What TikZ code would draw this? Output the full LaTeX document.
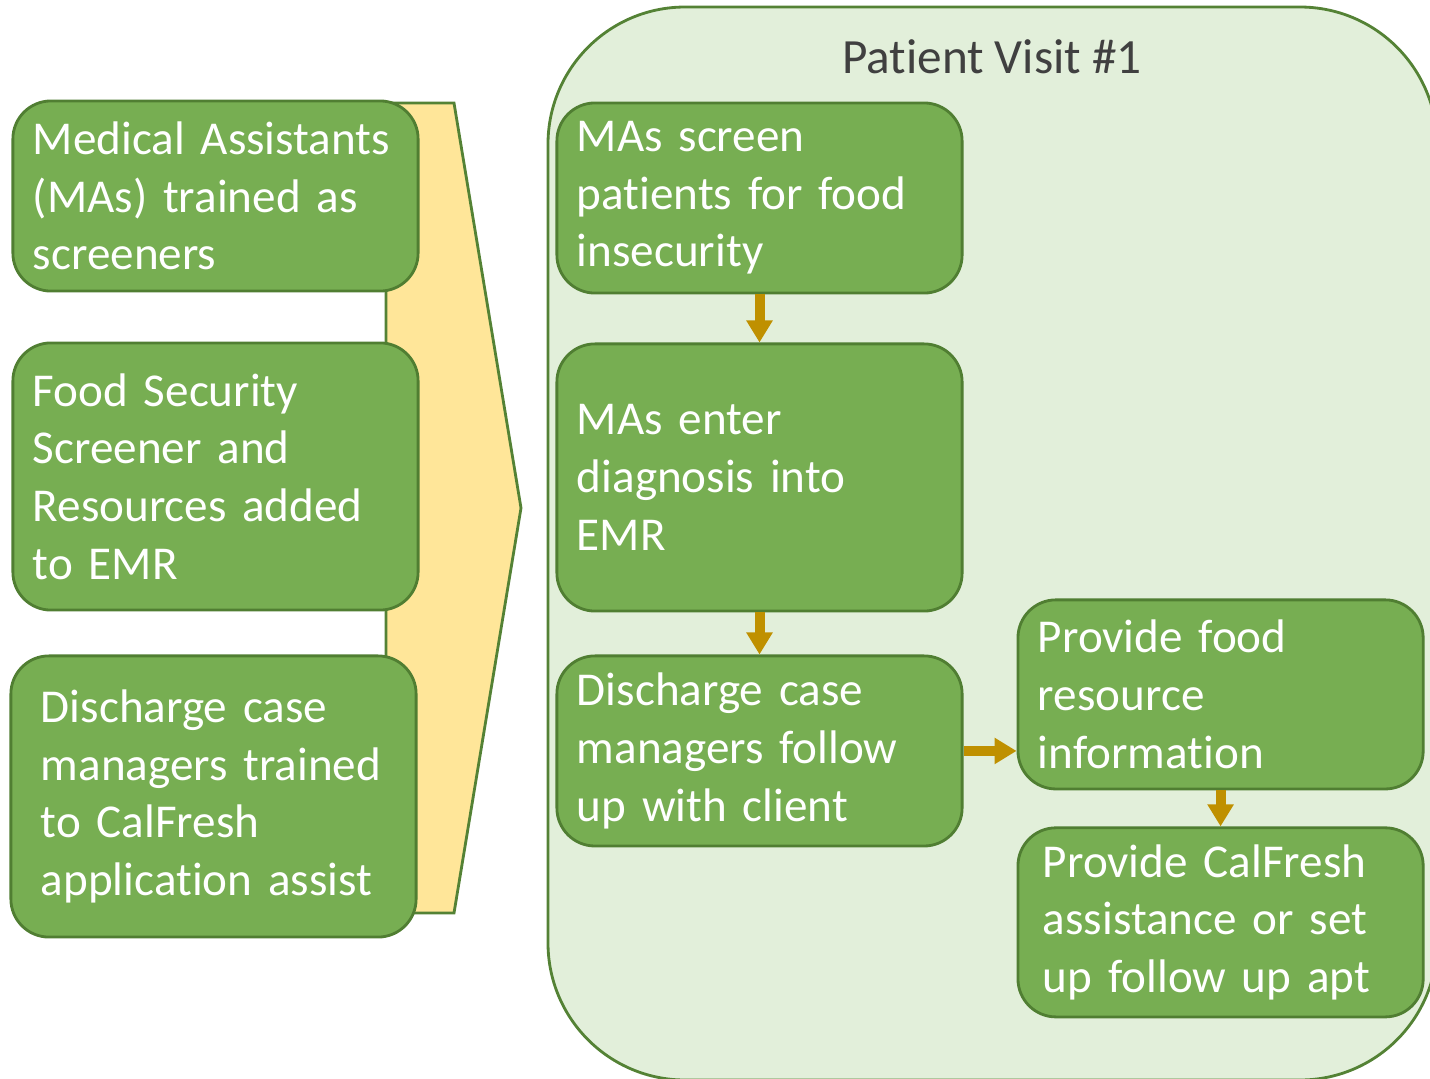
\documentclass[tikz,border=0pt]{standalone}
\usepackage{fontspec}
\setmainfont{Carlito}[Ligatures=NoCommon]
\usetikzlibrary{positioning, arrows.meta}

\definecolor{boxgreen}{HTML}{77AE52}
\definecolor{boxedge}{HTML}{507E32}
\definecolor{visitfill}{HTML}{E2EFDA}
\definecolor{visitedge}{HTML}{548235}
\definecolor{chevronfill}{HTML}{FFE699}
\definecolor{flowarrow}{HTML}{BF9000}
\definecolor{titlegray}{HTML}{404040}

\tikzset{
  greenbox/.style={
    rectangle,
    rounded corners=0.38cm,
    draw=boxedge,
    fill=boxgreen,
    line width=0.8pt,
    text=white,
    align=left,
    inner xsep=0.2cm,
    text width=3.65cm,
    font=\fontsize{13.4pt}{16.4pt}\selectfont
  },
  flow/.style={
    draw=flowarrow,
    line width=0.1cm,
    -{Triangle[width=0.25cm,length=0.22cm]}
  },
}

\begin{document}
\begin{tikzpicture}[x=0.01cm, y=-0.01cm]

    \clip (0,0) rectangle (1430,1078);

    % Background shapes
    \draw [fill=chevronfill, draw=visitedge, line width=0.8pt]
        (386,103) -- (454,103) -- (521,508) -- (454,913) -- (386,913) -- cycle;
    \draw [fill=visitfill, draw=visitedge, line width=0.8pt, rounded corners=1.37cm]
        (548,7) rectangle (1437,1080);

    \node (title) at (992,57) [text=titlegray, font=\fontsize{14pt}{17pt}\selectfont] {Patient Visit \#1};

    % Nodes
    \node (l1) at (215.5,196) [greenbox, minimum height=1.90cm] {Medical Assistants\\(MAs) trained as\\screeners};
    \node (l2) [below=0.49cm of l1, greenbox, minimum height=2.67cm] {Food Security\\Screener and\\Resources added\\to EMR};
    \node (l3) [below=0.43cm of l2, greenbox, minimum height=2.81cm, inner xsep=0.3cm, text width=3.45cm, xshift=-0.02cm] {Discharge case\\managers trained\\to CalFresh\\application assist};

    \node (v1) at (759.5,198) [greenbox, minimum height=1.90cm] {MAs screen\\patients for food\\insecurity};
    \node (v2) [below=0.48cm of v1, greenbox, minimum height=2.67cm] {MAs enter\\diagnosis into\\EMR};
    \node (v3) [below=0.42cm of v2, greenbox, minimum height=1.90cm] {Discharge case\\managers follow\\up with client};
    \node (v4) [right=0.53cm of v3, yshift=0.565cm, greenbox, minimum height=1.89cm] {Provide food\\resource\\information};
    \node (v5) [below=0.36cm of v4, greenbox, minimum height=1.89cm, inner xsep=0.25cm, text width=3.55cm] {Provide CalFresh\\assistance or set\\up follow up apt};

    % Connectors
    \begin{scope}[flow]

        \draw (v1) -- (v2);
        \draw (v2) -- (v3);
        \draw (v3.east) -- (v3.east -| v4.west);
        \draw (v4) -- (v5);

    \end{scope}

\end{tikzpicture}
\end{document}
